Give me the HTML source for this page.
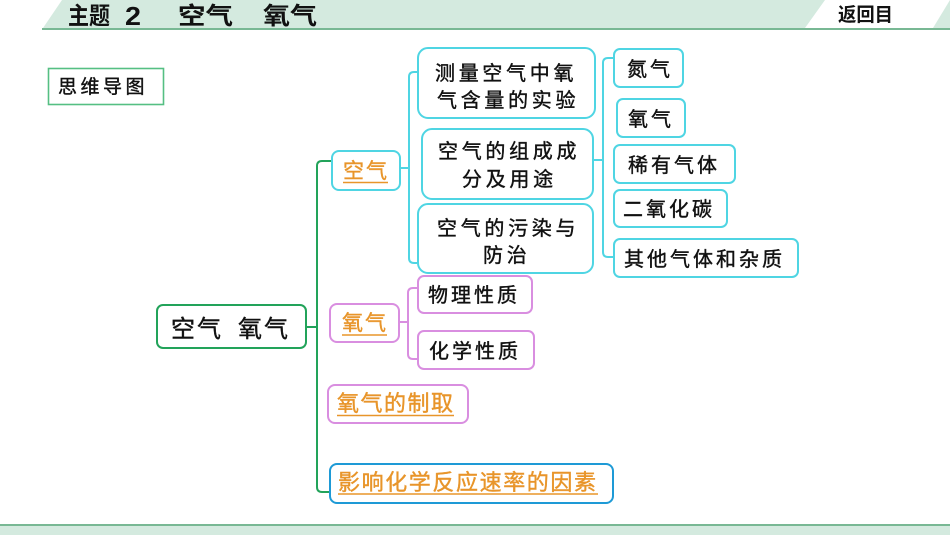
<!DOCTYPE html>
<html><head><meta charset="utf-8"><style>
html,body{margin:0;padding:0;background:#fff;}
svg{display:block;}
.k{font-family:"Noto Sans CJK SC","WenQuanYi Zen Hei",sans-serif;fill:#111;stroke:#111;stroke-width:0.4px;font-weight:400;}
.o{font-family:"Noto Sans CJK SC","WenQuanYi Zen Hei",sans-serif;fill:#e8952a;stroke:#e8952a;stroke-width:0.4px;font-weight:400;}
.h{font-family:"Liberation Sans","Noto Sans CJK SC",sans-serif;font-weight:bold;fill:#111;}
</style></head><body>
<svg width="950" height="535" viewBox="0 0 950 535" xmlns="http://www.w3.org/2000/svg">
<!-- header -->
<polygon points="62,0 825,0 805,28 43,28" fill="#d4eadf"/>
<polygon points="950,0 950,28 933,28" fill="#d4eadf"/>
<rect x="42" y="28" width="908" height="2" fill="#78b894"/>
<text class="h" x="68" y="24" font-size="24" textLength="42" lengthAdjust="spacingAndGlyphs">主题</text>
<text class="h" x="125" y="25" font-size="26" textLength="16" lengthAdjust="spacingAndGlyphs">2</text>
<text class="h" x="178" y="24" font-size="24" textLength="55" lengthAdjust="spacingAndGlyphs">空气</text>
<text class="h" x="263" y="24" font-size="24" textLength="54" lengthAdjust="spacingAndGlyphs">氧气</text>
<text class="h" x="838" y="21" font-size="19" textLength="55" lengthAdjust="spacingAndGlyphs">返回目</text>
<!-- footer -->
<rect x="0" y="524" width="950" height="2" fill="#78b894"/>
<rect x="0" y="526" width="950" height="9" fill="#d4eadf"/>

<!-- 思维导图 -->
<rect x="48.5" y="68.5" width="115" height="36" fill="none" stroke="#55bf83" stroke-width="1.6"/>
<text class="k" x="58" y="93" font-size="19" letter-spacing="3.5">思维导图</text>

<!-- connectors -->
<g fill="none" stroke-width="2">
<path d="M306 327 L317 327 M331 161 L322 161 Q317 161 317 166 L317 487 Q317 492 322 492 L330 492" stroke="#22a35a"/>
<path d="M400 168 L409 168 M417 72 L414 72 Q409 72 409 77 L409 258 Q409 263 414 263 L417 263" stroke="#4fd5e3"/>
<path d="M593 160 L603 160 M613 58 L608 58 Q603 58 603 63 L603 252 Q603 257 608 257 L613 257" stroke="#4fd5e3"/>
<path d="M399 322 L408 322 M417 288 L413 288 Q408 288 408 293 L408 354 Q408 359 413 359 L417 359" stroke="#d98ee0"/>
</g>

<!-- root -->
<rect x="157" y="305" width="149" height="43" rx="6" fill="#fff" stroke="#22a35a" stroke-width="2"/>
<text class="k" x="171" y="337" font-size="24" letter-spacing="2"><tspan x="171">空气</tspan><tspan x="238">氧气</tspan></text>

<!-- 空气 -->
<rect x="332" y="151" width="68" height="39" rx="7" fill="#fff" stroke="#4fd5e3" stroke-width="2"/>
<text class="o" x="343" y="178" font-size="21" letter-spacing="2">空气</text>
<line x1="343" y1="182.5" x2="388" y2="182.5" stroke="#e8952a" stroke-width="1.5"/>

<!-- cyan sub nodes -->
<g fill="#fff" stroke="#4fd5e3" stroke-width="2">
<rect x="418" y="48" width="177" height="70" rx="10"/>
<rect x="422" y="129" width="171" height="70" rx="10"/>
<rect x="418" y="204" width="175" height="69" rx="10"/>
<rect x="614" y="49" width="69" height="38" rx="6"/>
<rect x="617" y="99" width="68" height="38" rx="6"/>
<rect x="614" y="145" width="121" height="38" rx="6"/>
<rect x="614" y="190" width="113" height="37" rx="6"/>
<rect x="614" y="239" width="184" height="38" rx="6"/>
</g>
<g class="k" font-size="20" letter-spacing="3.7">
<text x="435" y="80">测量空气中氧</text>
<text x="437" y="107">气含量的实验</text>
<text x="438" y="158">空气的组成成</text>
<text x="462" y="186">分及用途</text>
<text x="437" y="235">空气的污染与</text>
<text x="483" y="262">防治</text>
</g>
<g class="k" font-size="20" letter-spacing="3">
<text x="627" y="76">氮气</text>
<text x="628" y="126">氧气</text>
<text x="628" y="172">稀有气体</text>
<text x="623" y="216">二氧化碳</text>
<text x="624" y="266">其他气体和杂质</text>
</g>

<!-- 氧气 branch -->
<rect x="330" y="304" width="69" height="38" rx="7" fill="#fff" stroke="#d98ee0" stroke-width="2"/>
<text class="o" x="342" y="330" font-size="21" letter-spacing="2">氧气</text>
<line x1="342" y1="335" x2="387" y2="335" stroke="#e8952a" stroke-width="1.5"/>
<g fill="#fff" stroke="#d98ee0" stroke-width="2">
<rect x="418" y="276" width="114" height="37" rx="6"/>
<rect x="418" y="331" width="116" height="38" rx="6"/>
</g>
<g class="k" font-size="20" letter-spacing="3">
<text x="428" y="302">物理性质</text>
<text x="429" y="358">化学性质</text>
</g>

<!-- 氧气的制取 -->
<rect x="328" y="385" width="140" height="38" rx="7" fill="#fff" stroke="#d98ee0" stroke-width="2"/>
<text class="o" x="337" y="411" font-size="22" letter-spacing="1.5">氧气的制取</text>
<line x1="337" y1="415.5" x2="454" y2="415.5" stroke="#e8952a" stroke-width="1.5"/>

<!-- 影响化学反应速率的因素 -->
<rect x="330" y="464" width="283" height="39" rx="7" fill="#fff" stroke="#1e9ad6" stroke-width="2"/>
<text class="o" x="338" y="490" font-size="22" letter-spacing="1.6">影响化学反应速率的因素</text>
<line x1="338" y1="494" x2="598" y2="494" stroke="#e8952a" stroke-width="1.5"/>
</svg>
</body></html>
